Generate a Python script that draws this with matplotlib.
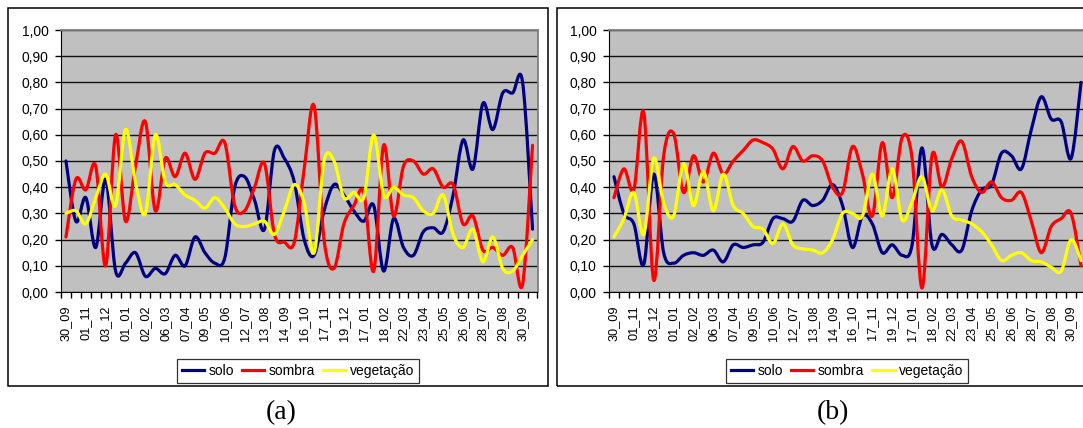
import numpy as np
import matplotlib
matplotlib.use('Agg')
import matplotlib.pyplot as plt
from matplotlib.path import Path
from matplotlib.patches import PathPatch, Rectangle
from matplotlib.lines import Line2D

plt.rcParams['font.family'] = ['Liberation Sans', 'DejaVu Sans']

# 16-day composite dates, two years
dates = ['30_09', '16_10', '01_11', '17_11', '03_12', '19_12', '01_01', '17_01',
         '02_02', '18_02', '06_03', '22_03', '07_04', '23_04', '09_05', '25_05',
         '10_06', '26_06', '12_07', '28_07', '13_08', '29_08', '14_09', '30_09',
         '16_10', '01_11', '17_11', '03_12', '19_12', '01_01', '17_01', '02_02',
         '18_02', '06_03', '22_03', '07_04', '23_04', '09_05', '25_05', '10_06',
         '26_06', '12_07', '28_07', '13_08', '29_08', '14_09', '30_09', '16_10']

series_names = ['solo', 'sombra', 'vegetação']

# panel (a)
solo_a = [0.50, 0.27, 0.36, 0.17, 0.43, 0.08, 0.11, 0.15, 0.06, 0.09, 0.07, 0.14,
          0.10, 0.21, 0.15, 0.11, 0.13, 0.40, 0.44, 0.35, 0.24, 0.54, 0.51, 0.42,
          0.20, 0.14, 0.31, 0.41, 0.37, 0.31, 0.27, 0.33, 0.08, 0.28, 0.17, 0.14,
          0.23, 0.245, 0.23, 0.37, 0.58, 0.47, 0.72, 0.62, 0.76, 0.76, 0.80, 0.24]
sombra_a = [0.21, 0.43, 0.39, 0.48, 0.10, 0.60, 0.27, 0.48, 0.65, 0.31, 0.51, 0.44,
            0.53, 0.43, 0.53, 0.53, 0.57, 0.33, 0.31, 0.40, 0.49, 0.22, 0.19, 0.19,
            0.47, 0.71, 0.20, 0.09, 0.26, 0.33, 0.38, 0.08, 0.56, 0.29, 0.48, 0.50,
            0.45, 0.47, 0.40, 0.41, 0.26, 0.29, 0.16, 0.17, 0.14, 0.17, 0.03, 0.56]
veget_a = [0.30, 0.31, 0.26, 0.36, 0.45, 0.33, 0.62, 0.42, 0.30, 0.60, 0.42, 0.41,
           0.37, 0.35, 0.32, 0.36, 0.32, 0.26, 0.25, 0.26, 0.27, 0.22, 0.31, 0.41,
           0.34, 0.15, 0.50, 0.50, 0.36, 0.38, 0.36, 0.60, 0.37, 0.40, 0.37, 0.36,
           0.31, 0.30, 0.37, 0.22, 0.17, 0.24, 0.115, 0.21, 0.09, 0.08, 0.14, 0.20]

# panel (b)
solo_b = [0.44, 0.30, 0.26, 0.105, 0.45, 0.15, 0.11, 0.14, 0.15, 0.14, 0.16, 0.115,
          0.18, 0.17, 0.18, 0.19, 0.28, 0.28, 0.27, 0.35, 0.33, 0.35, 0.41, 0.33,
          0.17, 0.29, 0.26, 0.15, 0.18, 0.14, 0.18, 0.55, 0.18, 0.22, 0.18, 0.16,
          0.31, 0.39, 0.41, 0.53, 0.52, 0.47, 0.62, 0.745, 0.66, 0.65, 0.51, 0.80]
sombra_b = [0.36, 0.47, 0.39, 0.685, 0.045, 0.52, 0.605, 0.38, 0.52, 0.42, 0.53, 0.45,
            0.50, 0.54, 0.58, 0.57, 0.545, 0.47, 0.555, 0.50, 0.52, 0.50, 0.40, 0.38,
            0.555, 0.45, 0.29, 0.57, 0.36, 0.59, 0.51, 0.015, 0.52, 0.40, 0.51, 0.575,
            0.44, 0.38, 0.42, 0.36, 0.35, 0.38, 0.27, 0.15, 0.25, 0.28, 0.30, 0.10]
veget_b = [0.21, 0.28, 0.38, 0.22, 0.51, 0.34, 0.29, 0.49, 0.33, 0.46, 0.31, 0.45,
           0.33, 0.30, 0.25, 0.24, 0.185, 0.26, 0.18, 0.165, 0.16, 0.15, 0.20, 0.30,
           0.30, 0.29, 0.45, 0.29, 0.47, 0.275, 0.345, 0.44, 0.31, 0.39, 0.29, 0.275,
           0.26, 0.23, 0.18, 0.12, 0.14, 0.15, 0.12, 0.115, 0.095, 0.08, 0.20, 0.12]

colors = ['#000080', '#FF0000', '#FFFF00']
W, H = 1083, 428


def smooth_path(vals):
    # excel-like smoothed line: bezier through every point
    pts = np.column_stack([np.arange(len(vals)), vals]).astype(float)
    n = len(pts)
    verts = [pts[0]]
    codes = [Path.MOVETO]
    for i in range(n - 1):
        p0 = pts[max(i - 1, 0)]
        p1 = pts[i]
        p2 = pts[i + 1]
        p3 = pts[min(i + 2, n - 1)]
        verts += [p1 + (p2 - p0) / 6.0, p2 - (p3 - p1) / 6.0, p2]
        codes += [Path.CURVE4] * 3
    return Path(verts, codes)


def px_box(x0, y0, x1, y1):
    return [x0 / W, 1 - y1 / H, (x1 - x0) / W, (y1 - y0) / H]


fig = plt.figure(figsize=(W / 100, H / 100), dpi=100)

panels = [
    dict(rect=px_box(61, 30, 537.5, 292), frame=(8, 8, 548, 386),
         data=[solo_a, sombra_a, veget_a], legx=298, label='(a)', labx=281),
    dict(rect=px_box(609, 30, 1086, 292), frame=(557, 8, 1095, 386),
         data=[solo_b, sombra_b, veget_b], legx=847, label='(b)', labx=833),
]

for p in panels:
    fx0, fy0, fx1, fy1 = p['frame']
    fig.patches.append(Rectangle((fx0 / W, 1 - fy1 / H), (fx1 - fx0) / W, (fy1 - fy0) / H,
                                 transform=fig.transFigure, fill=False,
                                 edgecolor='black', lw=1.1))

    ax = fig.add_axes(p['rect'])
    ax.set_facecolor('#C0C0C0')
    for vals, c in zip(p['data'], colors):
        ax.add_patch(PathPatch(smooth_path(vals), facecolor='none', edgecolor=c,
                               lw=2.3, capstyle='round', joinstyle='round', zorder=3))

    ax.set_xlim(-0.5, len(dates) - 0.5)
    ax.set_ylim(0, 1)
    yt = np.arange(0, 1.01, 0.1)
    ax.set_yticks(yt)
    ax.set_yticklabels([('%.2f' % v).replace('.', ',') for v in yt])
    ax.yaxis.grid(True, color='#111111', lw=1.0)
    ax.set_axisbelow(True)

    idx = np.arange(0, len(dates), 2)
    ax.set_xticks(idx)
    ax.set_xticklabels([dates[i] for i in idx], rotation=90, fontsize=9.2)
    ax.set_xticks(np.arange(-0.5, len(dates), 1), minor=True)
    ax.tick_params(axis='x', which='major', length=0, pad=9.5)
    ax.tick_params(axis='x', which='minor', length=4, width=1, direction='out')
    ax.tick_params(axis='y', length=4, width=1, direction='out', pad=5, labelsize=10)

    ax.spines['left'].set_color('black')
    ax.spines['bottom'].set_color('black')
    for s in ['top', 'right']:
        ax.spines[s].set_color('#808080')
        ax.spines[s].set_linewidth(1.3)

    handles = [Line2D([], [], color=c, lw=2.3) for c in colors]
    leg = ax.legend(handles, series_names, loc='center', ncol=3,
                    bbox_to_anchor=(p['legx'] / W, 1 - 371 / H),
                    bbox_transform=fig.transFigure, fontsize=10,
                    frameon=True, fancybox=False, edgecolor='black',
                    handlelength=1.6, handletextpad=0.3, columnspacing=0.6,
                    borderpad=0.35, borderaxespad=0)
    leg.get_frame().set_linewidth(0.9)

    fig.text(p['labx'] / W, 1 - 413 / H, p['label'], ha='center', va='center',
             fontsize=20, family='Liberation Serif')

fig.savefig('out.png', dpi=100)
